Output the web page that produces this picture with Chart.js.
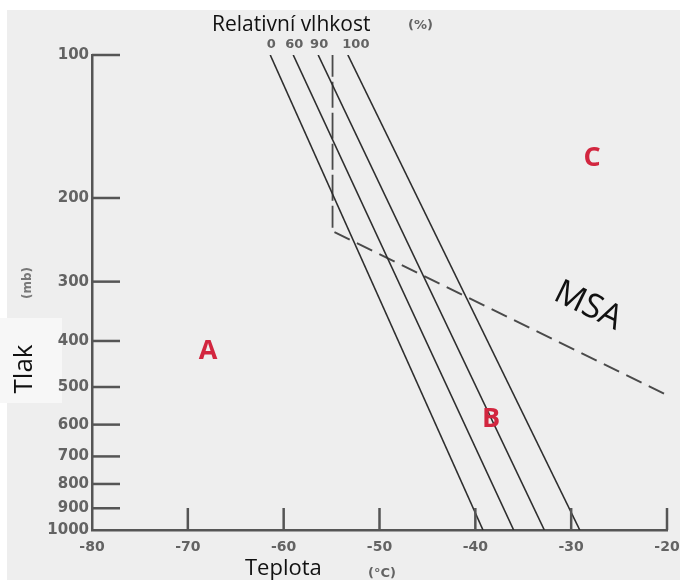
<!DOCTYPE html>
<html lang="cs">
<head>
  <meta charset="UTF-8">
  <title>Relativní vlhkost – tlak a teplota</title>
  <style>
    body { margin: 0; background: #fff; }
    .chart-container { width: 680px; height: 580px; position: relative; }
  </style>
</head>
<body>
  <div class="chart-container">
    <canvas id="appleman" width="680" height="580"></canvas>
  </div>

  <script src="https://cdn.jsdelivr.net/npm/chart.js"></script>
  <script>
    // Axis values
    const pressureTicks = [100, 200, 300, 400, 500, 600, 700, 800, 900, 1000];
    const tempTicks = [-80, -70, -60, -50, -40, -30, -20];

    // Relative humidity lines (temperature at 100 mb and at 1000 mb)
    const rhLabels = ['0', '60', '90', '100'];
    const rhTempTop = [-61.4, -59.0, -56.4, -53.3];
    const rhTempBottom = [-39.2, -36.0, -32.8, -29.1];

    // Dashed lines: vertical one and MSA
    const vertTemp = [-54.9, -54.9];
    const vertPress = [98, 231];
    const msaTemp = [-54.7, -20];
    const msaPress = [236, 520];

    // Region letters
    const regionLabels = ['A', 'B', 'C'];

    const rhColor = '#2e2e2e';
    const axisColor = '#555';
    const scanGray = '#636363';

    const datasets = rhLabels.map((lbl, i) => ({
      label: lbl + ' %',
      data: [{ x: rhTempTop[i], y: 100 }, { x: rhTempBottom[i], y: 1000 }],
      showLine: true,
      borderColor: rhColor,
      borderWidth: 1.6,
      pointRadius: 0
    }));
    datasets.push({
      label: 'vertical',
      data: vertTemp.map((t, i) => ({ x: t, y: vertPress[i] })),
      showLine: true,
      borderColor: '#4a4a4a',
      borderWidth: 1.8,
      borderDash: [26, 5],
      pointRadius: 0
    });
    datasets.push({
      label: 'MSA',
      data: msaTemp.map((t, i) => ({ x: t, y: msaPress[i] })),
      showLine: true,
      borderColor: '#4a4a4a',
      borderWidth: 2,
      borderDash: [17, 8],
      pointRadius: 0
    });

    // paper background of the scan
    const paperPlugin = {
      id: 'paper',
      beforeDraw(chart) {
        const ctx = chart.ctx;
        ctx.save();
        ctx.fillStyle = '#ffffff';
        ctx.fillRect(0, 0, chart.width, chart.height);
        ctx.fillStyle = '#eeeeee';
        ctx.fillRect(7, 10, chart.width - 7, chart.height - 10);
        ctx.fillStyle = '#f7f7f7';
        ctx.fillRect(0, 318, 62, 85);
        ctx.restore();
      }
    };

    // inner tick marks and all the captions
    const decorPlugin = {
      id: 'decor',
      afterDraw(chart) {
        const ctx = chart.ctx;
        const xs = chart.scales.x;
        const ys = chart.scales.y;
        const area = chart.chartArea;

        ctx.save();
        ctx.strokeStyle = axisColor;
        ctx.lineWidth = 2.5;
        ctx.lineCap = 'butt';
        pressureTicks.slice(0, -1).forEach(p => {
          const py = ys.getPixelForValue(p);
          ctx.beginPath();
          ctx.moveTo(area.left, py);
          ctx.lineTo(area.left + 28, py);
          ctx.stroke();
        });
        tempTicks.slice(1).forEach(t => {
          const px = xs.getPixelForValue(t);
          ctx.beginPath();
          ctx.moveTo(px, area.bottom);
          ctx.lineTo(px, area.bottom - 22);
          ctx.stroke();
        });

        // RH labels above line tops
        ctx.fillStyle = scanGray;
        ctx.font = 'bold 13px "DejaVu Sans"';
        ctx.textAlign = 'center';
        ctx.textBaseline = 'middle';
        rhLabels.forEach((lbl, i) => {
          const px = xs.getPixelForValue(rhTempTop[i]);
          ctx.fillText(lbl, px + (i === 3 ? 8 : 1), 45);
        });

        // titles
        ctx.fillStyle = '#111';
        ctx.font = '21px "Open Sans"';
        ctx.textAlign = 'left';
        ctx.fillText('Relativní vlhkost', 212, 25);
        ctx.font = '22px "Open Sans"';
        ctx.fillText('Teplota', 245, 569);

        ctx.fillStyle = scanGray;
        ctx.font = 'bold 13px "DejaVu Sans"';
        ctx.fillText('(%)', 408, 26);
        ctx.fillText('(°C)', 368, 574);

        ctx.save();
        ctx.translate(25, 369);
        ctx.rotate(-Math.PI / 2);
        ctx.fillStyle = '#111';
        ctx.font = '26px "Open Sans"';
        ctx.textAlign = 'center';
        ctx.fillText('Tlak', 0, 0);
        ctx.restore();

        ctx.save();
        ctx.translate(28, 283);
        ctx.rotate(-Math.PI / 2);
        ctx.fillStyle = '#777';
        ctx.font = 'bold 12px "DejaVu Sans"';
        ctx.textAlign = 'center';
        ctx.fillText('(mb)', 0, 0);
        ctx.restore();

        // region letters
        ctx.fillStyle = '#d2263f';
        ctx.font = 'bold 27px "Open Sans"';
        ctx.textAlign = 'center';
        const letterPos = [[208, 351], [491, 419], [592, 158]];
        regionLabels.forEach((l, i) => ctx.fillText(l, letterPos[i][0], letterPos[i][1]));

        // MSA caption
        ctx.save();
        ctx.translate(588, 306);
        ctx.rotate(26 * Math.PI / 180);
        ctx.fillStyle = '#111';
        ctx.font = '34px "Open Sans"';
        ctx.textAlign = 'center';
        ctx.fillText('MSA', 0, 0);
        ctx.restore();

        ctx.restore();
      }
    };

    new Chart(document.getElementById('appleman'), {
      type: 'scatter',
      data: { datasets: datasets },
      options: {
        responsive: false,
        animation: false,
        layout: { padding: { left: 0, right: 13, top: 55, bottom: 0 } },
        plugins: { legend: { display: false }, tooltip: { enabled: false } },
        scales: {
          x: {
            type: 'linear',
            min: -80,
            max: -20,
            afterFit: s => { s.height = 50; s.paddingLeft = 0; s.paddingRight = 0; },
            afterBuildTicks: s => { s.ticks = tempTicks.map(v => ({ value: v })); },
            grid: { drawOnChartArea: false, drawTicks: false },
            border: { display: true, color: axisColor, width: 2.5 },
            ticks: {
              padding: 9,
              color: scanGray,
              font: { family: 'DejaVu Sans', size: 14, weight: 'bold' },
              callback: v => String(v)
            }
          },
          y: {
            type: 'logarithmic',
            reverse: true,
            min: 100,
            max: 1000,
            afterFit: s => { s.width = 92; s.paddingTop = 0; s.paddingBottom = 0; },
            afterBuildTicks: s => { s.ticks = pressureTicks.map(v => ({ value: v })); },
            grid: { drawOnChartArea: false, drawTicks: false },
            border: { display: true, color: axisColor, width: 2.5 },
            ticks: {
              padding: 3,
              color: scanGray,
              font: { family: 'DejaVu Sans', size: 15, weight: 'bold' },
              callback: v => String(v)
            }
          }
        }
      },
      plugins: [paperPlugin, decorPlugin]
    });
  </script>
</body>
</html>
